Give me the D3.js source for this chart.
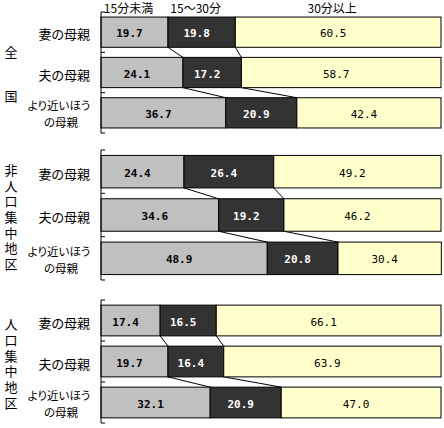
<!DOCTYPE html>
<html>
<head>
<meta charset="utf-8">
<script src="https://cdn.jsdelivr.net/npm/d3@7"></script>
<style>
  body { margin: 0; background: #fff; }
  svg text { font-family: "Noto Sans CJK JP", sans-serif; font-feature-settings: "palt"; }
  .num { font-family: "DejaVu Sans Mono", monospace; font-size: 11px; }
</style>
</head>
<body>
<svg id="chart" width="444" height="428"></svg>
<script>
// data
var groups = ["全国", "非人口集中地区", "人口集中地区"];
var categories = ["妻の母親", "夫の母親", "より近いほうの母親"];
var seriesNames = ["15分未満", "15～30分", "30分以上"];
var under15   = [[19.7, 24.1, 36.7], [24.4, 34.6, 48.9], [17.4, 19.7, 32.1]];
var from15to30 = [[19.8, 17.2, 20.9], [26.4, 19.2, 20.8], [16.5, 16.4, 20.9]];
var over30    = [[60.5, 58.7, 42.4], [49.2, 46.2, 30.4], [66.1, 63.9, 47.0]];

var fills = ["#c0c0c0", "#333333", "#ffffcc"];
var textFill = ["#000", "#fff", "#000"];
var textWeight = ["bold", "bold", "normal"];

var svg = d3.select("#chart");

// panel vertical extents
var panels = [[12, 133], [150, 280], [300, 423]];
var axis_x = 101;

var x = d3.scaleLinear().domain([0, 100]).range([axis_x, 441]);

groups.forEach(function(grp, gi) {
  var y = d3.scaleBand()
    .domain(categories)
    .range(panels[gi])
    .paddingInner(0.25)
    .paddingOuter(0.125);

  var rows = categories.map(function(c, ci) {
    var vals = [under15[gi][ci], from15to30[gi][ci], over30[gi][ci]];
    var acc = 0;
    var segs = vals.map(function(v, si) {
      var s = { cat: c, s: si, v: v, x0: acc, x1: acc + v };
      acc += v;
      return s;
    });
    return { cat: c, segs: segs };
  });

  var g = svg.append("g");

  // series connector lines
  for (var i = 0; i < rows.length - 1; i++) {
    [0, 1].forEach(function(si) {
      g.append("line")
        .attr("x1", x(rows[i].segs[si].x1))
        .attr("y1", y(rows[i].cat) + y.bandwidth())
        .attr("x2", x(rows[i + 1].segs[si].x1))
        .attr("y2", y(rows[i + 1].cat))
        .attr("stroke", "#000")
        .attr("stroke-width", 1);
    });
  }

  var row = g.selectAll(".row")
    .data(rows)
    .enter().append("g")
      .attr("class", "row");

  row.selectAll("rect")
    .data(function(d) { return d.segs; })
    .enter().append("rect")
      .attr("x", function(d) { return x(d.x0); })
      .attr("y", function(d) { return y(d.cat); })
      .attr("width", function(d) { return x(d.x1) - x(d.x0); })
      .attr("height", y.bandwidth())
      .attr("fill", function(d) { return fills[d.s]; })
      .attr("stroke", "#000")
      .attr("stroke-width", 1);

  row.selectAll(".num")
    .data(function(d) { return d.segs; })
    .enter().append("text")
      .attr("class", "num")
      .attr("x", function(d) { return (x(d.x0) + x(d.x1)) / 2 - 5; })
      .attr("y", function(d) { return y(d.cat) + y.bandwidth() / 2 + 5; })
      .attr("text-anchor", "middle")
      .attr("fill", function(d) { return textFill[d.s]; })
      .attr("font-weight", function(d) { return textWeight[d.s]; })
      .text(function(d) { return d.v.toFixed(1); });

  // category axis: vertical line with inside ticks at band boundaries
  var ag = g.append("g")
    .attr("transform", "translate(" + axis_x + ",0)");
  ag.append("line")
    .attr("x1", 0).attr("x2", 0)
    .attr("y1", panels[gi][0]).attr("y2", panels[gi][1])
    .attr("stroke", "#000");
  var bounds = [panels[gi][0]].concat(categories.slice(1).map(function(c) {
    return y(c) - y.step() * y.paddingInner() / 2;
  })).concat([panels[gi][1]]);
  bounds.forEach(function(b) {
    ag.append("line").attr("x1", 0).attr("x2", 4).attr("y1", b).attr("y2", b)
      .attr("stroke", "#000");
  });

  // category labels
  categories.forEach(function(c) {
    var cy = y(c) + y.bandwidth() / 2;
    if (c.length > 4) {
      g.append("text")
        .attr("x", 59).attr("y", cy - 2.5)
        .attr("font-size", 11.5)
        .attr("text-anchor", "middle")
        .text(c.slice(0, 6));
      g.append("text")
        .attr("x", 61).attr("y", cy + 14.3)
        .attr("font-size", 11.5)
        .attr("text-anchor", "middle")
        .text(c.slice(6));
    } else {
      g.append("text")
        .attr("x", 90)
        .attr("y", cy + 7)
        .attr("font-size", 13)
        .attr("text-anchor", "end")
        .text(c);
    }
  });

  // group label, vertical text
  var spacing = grp.length === 2 ? 31 : 2.7;
  g.append("text")
    .attr("x", 11)
    .attr("y", (panels[gi][0] + panels[gi][1]) / 2 + 2 + spacing / 2)
    .attr("font-size", 13)
    .attr("text-anchor", "middle")
    .style("writing-mode", "vertical-rl")
    .style("text-orientation", "upright")
    .style("letter-spacing", spacing + "px")
    .text(grp);

  // series names over the first panel
  if (gi === 0) {
    rows[0].segs.forEach(function(s) {
      svg.append("text")
        .attr("x", (x(s.x0) + x(s.x1)) / 2 - 6)
        .attr("y", 13)
        .attr("font-size", 12)
        .attr("text-anchor", "middle")
        .text(seriesNames[s.s]);
    });
  }
});
</script>
</body>
</html>
